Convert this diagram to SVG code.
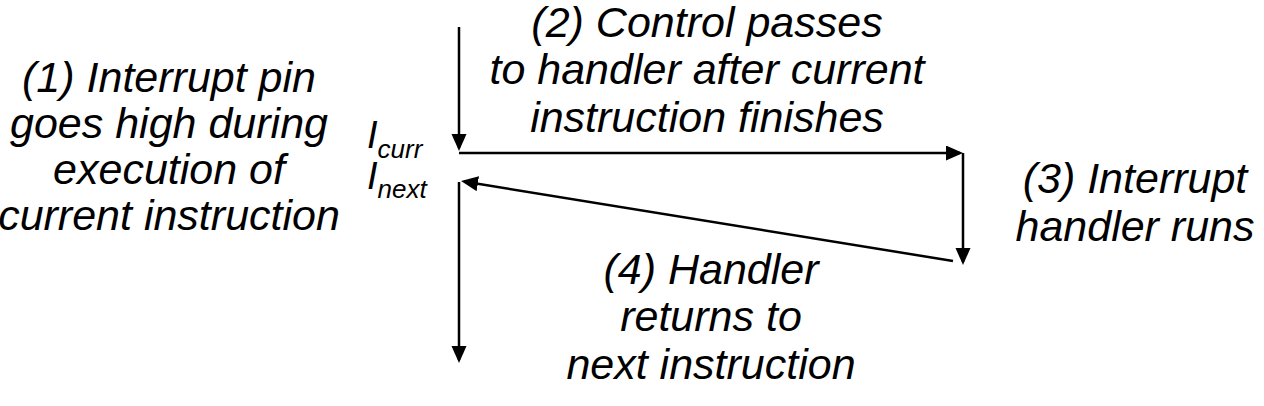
<svg xmlns="http://www.w3.org/2000/svg" width="1264" height="406" viewBox="0 0 1264 406">
<style>
.t{font-family:"Liberation Sans",Arial,sans-serif;font-style:italic;font-size:43px;fill:#000;text-anchor:middle}
.lbl{font-family:"Liberation Sans",Arial,sans-serif;font-style:italic;fill:#000}
.c{fill:none;stroke:#000;stroke-width:2.5}
</style>
<defs>
<marker id="ah" markerUnits="userSpaceOnUse" markerWidth="18" markerHeight="16" refX="14" refY="7.5" orient="auto">
<path d="M0,0 L17,7.5 L0,15 Z" fill="#000"/>
</marker>
</defs>
<rect width="1264" height="406" fill="#fff"/>
<g id="connectors">
<line class="c" x1="459" y1="27" x2="459" y2="148" marker-end="url(#ah)"/>
<line class="c" x1="459" y1="153" x2="960" y2="153" marker-end="url(#ah)"/>
<line class="c" x1="963" y1="153" x2="963" y2="262" marker-end="url(#ah)"/>
<line class="c" x1="953" y1="261" x2="464" y2="181.5" marker-end="url(#ah)"/>
<line class="c" x1="459" y1="182" x2="459" y2="360" marker-end="url(#ah)"/>
</g>
<g id="label-icurr">
<text class="lbl" x="367" y="148" font-size="38">I<tspan font-size="26" dy="10">curr</tspan></text>
</g>
<g id="label-inext">
<text class="lbl" x="367" y="189" font-size="38">I<tspan font-size="26" dy="9">next</tspan></text>
</g>
<g id="note1">
<text class="t" x="169" y="92">(1) Interrupt pin</text>
<text class="t" x="169" y="138">goes high during</text>
<text class="t" x="169" y="184">execution of</text>
<text class="t" x="169" y="230">current instruction</text>
</g>
<g id="note2">
<text class="t" x="707" y="37">(2) Control passes</text>
<text class="t" x="707" y="84">to handler after current</text>
<text class="t" x="707" y="132">instruction finishes</text>
</g>
<g id="note3">
<text class="t" x="1135" y="193">(3) Interrupt</text>
<text class="t" x="1135" y="241">handler runs</text>
</g>
<g id="note4">
<text class="t" x="711" y="284">(4) Handler</text>
<text class="t" x="711" y="331">returns to</text>
<text class="t" x="711" y="379">next instruction</text>
</g>
</svg>
